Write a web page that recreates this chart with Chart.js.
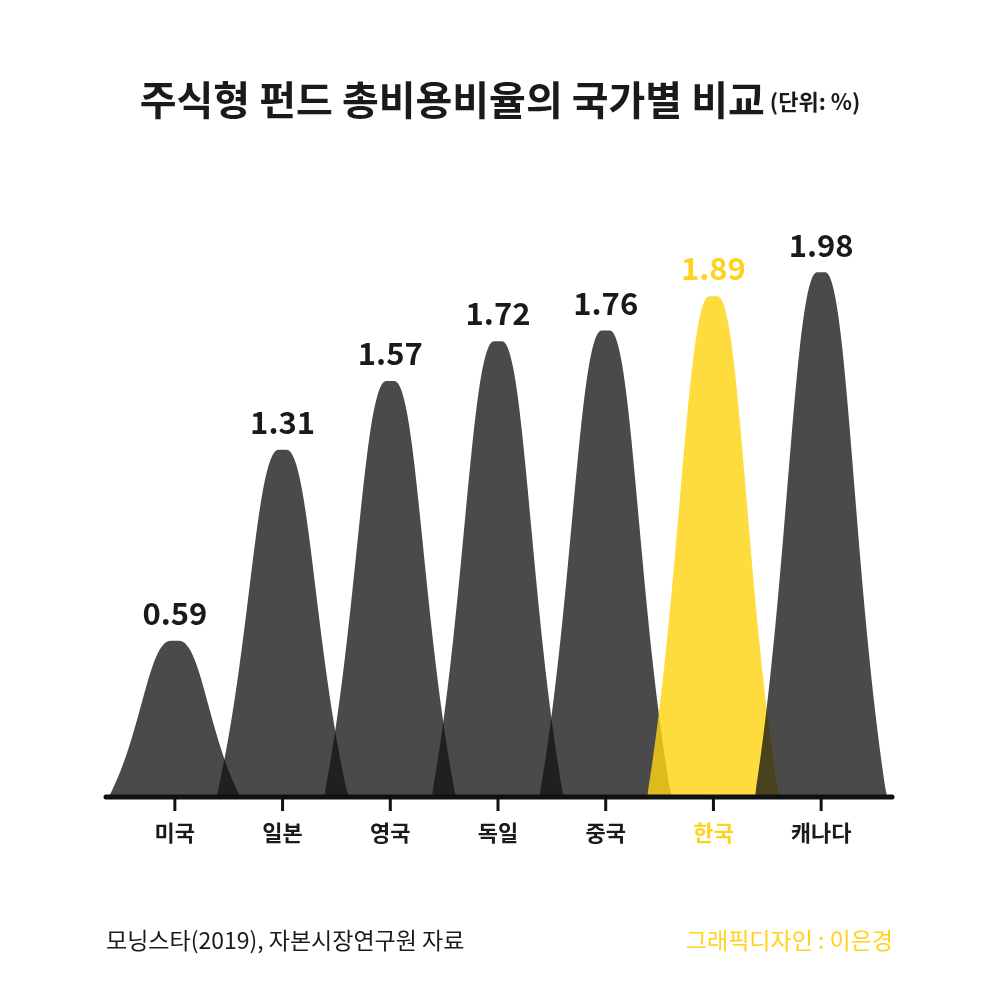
<!DOCTYPE html>
<html><head><meta charset="utf-8">
<script src="https://cdn.jsdelivr.net/npm/chart.js"></script>
<style>body{margin:0;background:#fff}#wrap{width:1000px;height:1000px}</style>
</head><body><div id="wrap"><canvas id="c"></canvas></div>
<script>
// 데이터
const countries = ['미국', '일본', '영국', '독일', '중국', '한국', '캐나다'];
const ratios = [0.59, 1.31, 1.57, 1.72, 1.76, 1.89, 1.98];
const highlight = '한국';

const FONT = '"Noto Sans CJK KR", "Noto Sans", sans-serif';
const DARK = 'rgba(20,20,20,0.77)';
const YELLOW = 'rgba(255,212,20,0.82)';

// 봉우리 모양 그리기
const peakPlugin = {
    id: 'peaks',
    afterDatasetsDraw(chart) {
        const ctx = chart.ctx;
        const meta = chart.getDatasetMeta(0);
        const y = chart.scales.y;
        const base = y.getPixelForValue(0);
        ctx.save();
        meta.data.forEach((bar, i) => {
            const cx = bar.x, top = bar.y, w = 66, h = base - top;
            ctx.beginPath();
            ctx.moveTo(cx - w, base);
            ctx.bezierCurveTo(cx - w * 0.5, base - h * 0.4, cx - w * 0.4, top, cx - 4, top);
            ctx.lineTo(cx + 4, top);
            ctx.bezierCurveTo(cx + w * 0.4, top, cx + w * 0.5, base - h * 0.4, cx + w, base);
            ctx.closePath();
            ctx.fillStyle = countries[i] === highlight ? YELLOW : DARK;
            ctx.fill();
            // 값 라벨
            ctx.fillStyle = countries[i] === highlight ? '#ffd21e' : '#1a1a1a';
            ctx.font = 'bold 31px ' + FONT;
            ctx.textAlign = 'center';
            ctx.textBaseline = 'bottom';
            ctx.fillText(ratios[i].toFixed(2), cx, top - 12);
            // 축 눈금, 카테고리
            ctx.fillStyle = '#111';
            ctx.fillRect(cx - 1.5, base, 3, 14);
            ctx.fillStyle = countries[i] === highlight ? '#ffd21e' : '#1a1a1a';
            ctx.font = 'bold 22px ' + FONT;
            ctx.textBaseline = 'middle';
            ctx.fillText(countries[i], cx, 833);
        });
        // 축선
        ctx.strokeStyle = '#111';
        ctx.lineWidth = 5;
        ctx.lineCap = 'round';
        ctx.beginPath();
        ctx.moveTo(106, base);
        ctx.lineTo(892, base);
        ctx.stroke();
        // 제목
        ctx.fillStyle = '#1a1a1a';
        ctx.textBaseline = 'alphabetic';
        ctx.textAlign = 'left';
        ctx.font = 'bold 40px ' + FONT;
        const t = '주식형 펀드 총비용비율의 국가별 비교';
        const tw = ctx.measureText(t).width;
        ctx.font = 'bold 22px ' + FONT;
        const sw = ctx.measureText(' (단위: %)').width;
        let x0 = 500 - (tw + sw) / 2;
        ctx.font = 'bold 40px ' + FONT;
        ctx.fillText(t, x0, 115);
        ctx.font = 'bold 22px ' + FONT;
        ctx.fillText(' (단위: %)', x0 + tw, 110);
        // 출처
        ctx.font = '23px ' + FONT;
        ctx.fillText('모닝스타(2019), 자본시장연구원 자료', 106, 949);
        ctx.textAlign = 'right';
        ctx.fillStyle = '#ffd21e';
        ctx.fillText('그래픽디자인 : 이은경', 893, 949);
        ctx.restore();
    }
};

new Chart(document.getElementById('c'), {
    type: 'bar',
    data: {
        labels: countries,
        datasets: [{ data: ratios, backgroundColor: 'rgba(0,0,0,0)' }]
    },
    options: {
        responsive: true,
        maintainAspectRatio: false,
        animation: false,
        layout: { padding: { left: 121, right: 125, top: 214, bottom: 203 } },
        plugins: { legend: { display: false }, tooltip: { enabled: false } },
        scales: {
            x: { display: false },
            y: { display: false, min: 0, max: 2.2 }
        }
    },
    plugins: [peakPlugin]
});
</script></body></html>
